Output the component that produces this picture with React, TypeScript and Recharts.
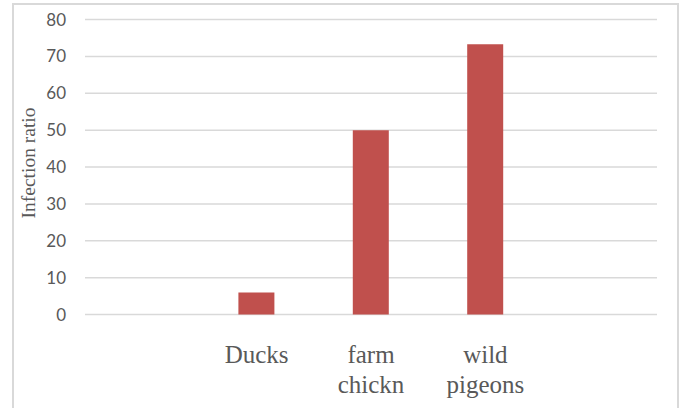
import { BarChart, Bar, XAxis, YAxis, CartesianGrid } from "recharts";

const categories = ["", "Ducks", "farm chickn", "wild pigeons", ""];
const infectionRatio = [null, 6, 50, 73.3, null];
const yTicks = [0, 10, 20, 30, 40, 50, 60, 70, 80];

const data = categories.map((name, i) => ({ name, value: infectionRatio[i] }));

const gridColor = "#d9d9d9";
const textColor = "#595959";
const barColor = "#C0504D";

const CategoryTick = ({ x, y, payload }: any) => {
  const words = String(payload.value || "").split(" ").filter(Boolean);
  return (
    <text
      x={x}
      y={y}
      textAnchor="middle"
      fill={textColor}
      fontFamily="'Liberation Serif', 'Times New Roman', serif"
      fontSize={25}
    >
      {words.map((w, i) => (
        <tspan key={i} x={x} dy={i === 0 ? 40.5 : 30}>
          {w}
        </tspan>
      ))}
    </text>
  );
};

const App = () => {
  return (
    <div style={{ position: "relative", width: 681, height: 408, overflow: "hidden", background: "#fff" }}>
      <style>{"body{margin:0}"}</style>
      <div
        style={{
          position: "absolute",
          left: 12,
          top: 3,
          width: 663,
          height: 420,
          border: `2px solid ${gridColor}`,
        }}
      />
      <BarChart
        width={681}
        height={408}
        data={data}
        margin={{ top: 19.5, right: 24, bottom: 0, left: 0 }}
        style={{ position: "absolute", left: 0, top: 0 }}
      >
        <CartesianGrid vertical={false} stroke={gridColor} strokeWidth={1.5} />
        <XAxis
          dataKey="name"
          height={93.5}
          axisLine={false}
          tickLine={false}
          interval={0}
          tick={<CategoryTick />}
        />
        <YAxis
          width={85}
          domain={[0, 80]}
          ticks={yTicks}
          axisLine={false}
          tickLine={false}
          tickSize={0}
          tickMargin={19}
          tick={{ fill: textColor, fontSize: 17, fontFamily: "Lato, 'Liberation Sans', sans-serif" }}
          label={{
            content: () => (
              <text
                transform="translate(28,163) rotate(-90)"
                textAnchor="middle"
                dominantBaseline="central"
                fill={textColor}
                fontFamily="'Liberation Serif', 'Times New Roman', serif"
                fontSize={19.5}
              >
                Infection ratio
              </text>
            ),
          }}
        />
        <Bar dataKey="value" fill={barColor} barSize={36} isAnimationActive={false} />
      </BarChart>
    </div>
  );
};

export default App;
